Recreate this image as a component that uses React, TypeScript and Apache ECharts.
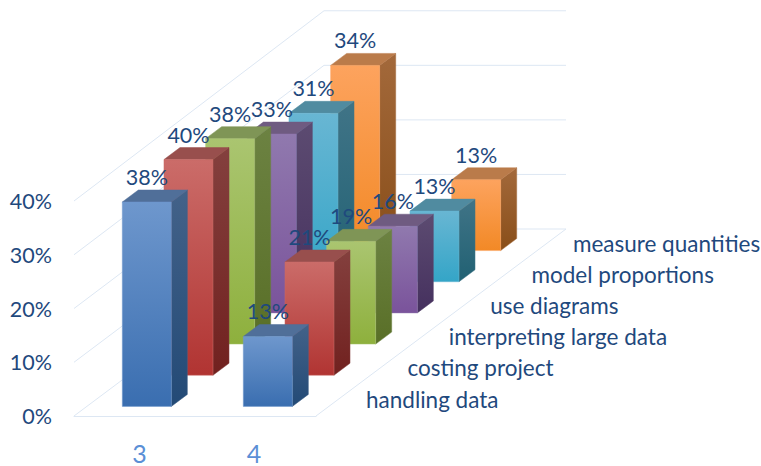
import React, { useEffect, useRef } from "react";
import * as echarts from "echarts";

// Chart content
const groups = ["3", "4"];
const topics = [
  "handling data",
  "costing project",
  "interpreting large data",
  "use diagrams",
  "model proportions",
  "measure quantities",
];
const group3Values = [38, 40, 38, 33, 31, 34];
const group4Values = [13, 21, 19, 16, 13, 13];
const percentTicks = [0, 10, 20, 30, 40];

// Face colours per topic: front top, front bottom, side top, side bottom, cap
const palettes = [
  ["#6e97cd", "#3a6eb0", "#436289", "#234a76", "#506f99"],
  ["#cb6c69", "#b13432", "#84403e", "#71211f", "#984f4d"],
  ["#aac570", "#8eb03d", "#6c8242", "#596f27", "#7f9556"],
  ["#9079ae", "#7a539b", "#5c4b71", "#45305e", "#6f5b81"],
  ["#68b6d3", "#34a5c7", "#407487", "#216173", "#508ba0"],
  ["#fda35e", "#f28926", "#a3693b", "#894e19", "#ba7b4a"],
];

// Oblique projection of the floor
const DEPTH_X = 250;
const DEPTH_Y = 187;
const ROW_COUNT = topics.length;
const BAR_WIDTH_RATIO = 0.405;
const BAR_DEPTH_RATIO = 0.385;
const HEIGHT_GROWTH = 0.015;

const TEXT_BLUE = "#1f497d";
const GRID_BLUE = "#dde7f3";
const FONT = "Lato";
const TOPIC_SIZE = 22.5;
const NUMBER_SIZE = 21.5;

const wallData = percentTicks.map((t) => [0, t]);

// Rows are painted from the back so nearer bars cover farther ones
const barData: number[][] = [];
for (let row = ROW_COUNT - 1; row >= 0; row--) {
  barData.push([0, group3Values[row], row]);
  barData.push([1, group4Values[row], row]);
}
const topicData = topics.map((_, i) => [1, 0, i]);

const vGradient = (top: string, bottom: string) => ({
  type: "linear",
  x: 0,
  y: 0,
  x2: 0,
  y2: 1,
  colorStops: [
    { offset: 0, color: top },
    { offset: 1, color: bottom },
  ],
});

const heightScale = (depth: number) => 1 + HEIGHT_GROWTH * depth;

function renderWall(_: any, api: any) {
  const base = api.coord([0, 0]);
  const p = api.coord([0, api.value(1)]);
  const band = api.size([1, 0])[0];
  const left = base[0] - band / 2;
  const backY = base[1] - DEPTH_Y - (base[1] - p[1]) * heightScale(1);
  const points = [
    [left, p[1]],
    [left + DEPTH_X, backY],
    [left + DEPTH_X + band * groups.length, backY],
  ];
  if (api.value(1) === 0) points.push([left + band * groups.length, base[1]]);
  return {
    type: "polyline",
    shape: { points },
    style: { stroke: GRID_BLUE, lineWidth: 1, fill: "none" },
  };
}

function barFront(api: any) {
  const row = api.value(2);
  const p = api.coord([api.value(0), api.value(1)]);
  const base = api.coord([api.value(0), 0]);
  const band = api.size([1, 0])[0];
  const depth = (row + (1 - BAR_DEPTH_RATIO) / 2) / ROW_COUNT;
  const w = band * BAR_WIDTH_RATIO;
  const x = p[0] - w / 2 + DEPTH_X * depth - 0.5;
  const bottom = base[1] - DEPTH_Y * depth;
  const top = bottom - (base[1] - p[1]) * heightScale(depth);
  return { row, x, w, top, bottom };
}

function renderBar(_: any, api: any) {
  const { row, x, w, top, bottom } = barFront(api);
  const dx = (DEPTH_X / ROW_COUNT) * BAR_DEPTH_RATIO;
  const dy = (DEPTH_Y / ROW_COUNT) * BAR_DEPTH_RATIO;
  const c = palettes[row];
  return {
    type: "group",
    children: [
      {
        type: "polygon",
        shape: {
          points: [
            [x + w, top],
            [x + w + dx, top - dy],
            [x + w + dx, bottom - dy],
            [x + w, bottom],
          ],
        },
        style: { fill: vGradient(c[2], c[3]), stroke: c[2], lineWidth: 0.5 },
      },
      {
        type: "polygon",
        shape: {
          points: [
            [x, top],
            [x + dx, top - dy],
            [x + w + dx, top - dy],
            [x + w, top],
          ],
        },
        style: { fill: c[4], stroke: c[4], lineWidth: 0.5 },
      },
      {
        type: "rect",
        shape: { x, y: top, width: w, height: bottom - top },
        style: { fill: vGradient(c[0], c[1]), stroke: c[0], lineWidth: 0.5 },
      },
    ],
  };
}

function renderValueLabel(_: any, api: any) {
  const { x, w, top } = barFront(api);
  return {
    type: "text",
    x: x + w / 2,
    y: top - 25,
    style: {
      text: api.value(1) + "%",
      fill: TEXT_BLUE,
      fontFamily: FONT,
      fontSize: NUMBER_SIZE,
      align: "center",
      textAlign: "center",
      verticalAlign: "middle",
      textVerticalAlign: "middle",
    },
  };
}

function renderTopic(params: any, api: any) {
  const row = api.value(2);
  const p = api.coord([1, 0]);
  const band = api.size([1, 0])[0];
  return {
    type: "text",
    x: p[0] + band / 2 + 50 + (row * DEPTH_X) / ROW_COUNT * 0.993,
    y: p[1] - 17 - (row * DEPTH_Y) / ROW_COUNT * 0.995,
    style: {
      text: topics[row],
      fill: TEXT_BLUE,
      fontFamily: FONT,
      fontSize: TOPIC_SIZE,
      align: "left",
      textAlign: "left",
      verticalAlign: "middle",
      textVerticalAlign: "middle",
    },
  };
}

export default function App() {
  const ref = useRef<HTMLDivElement>(null);

  useEffect(() => {
    const chart = echarts.init(ref.current!, undefined, { renderer: "svg" });
    chart.setOption({
      animation: false,
      backgroundColor: "#ffffff",
      grid: { left: 74, right: 445, top: 201, bottom: 50 },
      xAxis: {
        type: "category",
        data: groups,
        axisTick: { show: false },
        axisLine: { lineStyle: { color: GRID_BLUE, width: 1 } },
        axisLabel: {
          margin: 24,
          formatter: (v: string) => (v === "3" ? `{a|${v}}` : `{b|${v}}`),
          rich: {
            a: { padding: [0, 0, 0, 10], fontFamily: FONT, fontSize: 25, color: "#5b8fd6" },
            b: { padding: [0, 3, 0, 0], fontFamily: FONT, fontSize: 25, color: "#5b8fd6" },
          },
        },
      },
      yAxis: {
        type: "value",
        min: 0,
        max: 40,
        interval: 10,
        splitLine: { show: false },
        axisLine: { show: false },
        axisTick: { show: false },
        axisLabel: {
          margin: 22,
          formatter: "{value}%",
          fontFamily: FONT,
          fontSize: NUMBER_SIZE,
          color: TEXT_BLUE,
        },
      },
      series: [
        { type: "custom", z: 1, silent: true, data: wallData, renderItem: renderWall },
        { type: "custom", z: 2, silent: true, data: barData, renderItem: renderBar },
        { type: "custom", z: 3, silent: true, data: barData, renderItem: renderValueLabel },
        { type: "custom", z: 3, silent: true, data: topicData, renderItem: renderTopic },
      ],
    });
    return () => chart.dispose();
  }, []);

  return (
    <div
      ref={ref}
      style={{ position: "fixed", left: 0, top: 0, width: 761, height: 466 }}
    />
  );
}
